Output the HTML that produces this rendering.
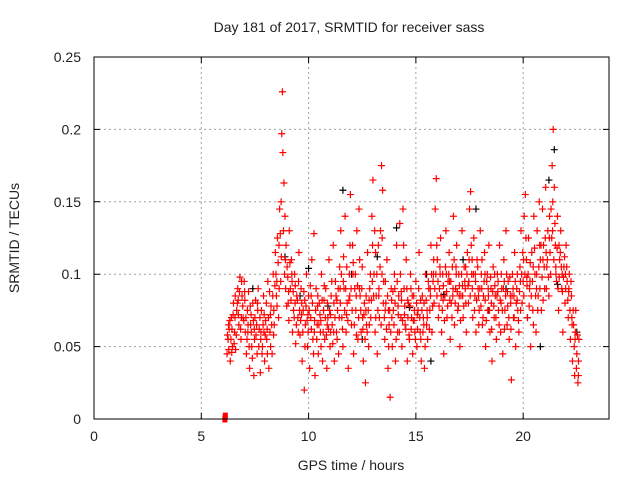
<!DOCTYPE html>
<html><head><meta charset="utf-8"><style>
body{margin:0;background:#fff;font-family:"Liberation Sans",sans-serif}
svg text{font-family:"Liberation Sans",sans-serif;font-size:14px;fill:#222}
</style></head><body>
<svg id="chart" width="640" height="480" viewBox="0 0 640 480" xmlns="http://www.w3.org/2000/svg">
<rect width="640" height="480" fill="#fff"/>
<text x="349" y="32" text-anchor="middle">Day 181 of 2017, SRMTID for receiver sass</text>
<text x="351" y="470" text-anchor="middle">GPS time / hours</text>
<text transform="translate(19,238) rotate(-90)" text-anchor="middle">SRMTID / TECUs</text>
<g id="grid"></g><g id="ticks"></g><g id="marks"></g>
<rect x="94" y="57" width="515" height="362" fill="none" stroke="#000" stroke-width="1"/>
</svg>
<script>
const xTicks=[0,5,10,15,20];
const yTicks=[0,0.05,0.1,0.15,0.2,0.25];
const yTickLabels=["0","0.05","0.1","0.15","0.2","0.25"];
const zeroPoints=[[6.1,0.0],[6.12,0.002]];
const redPoints=[
[6.2,0.045],[6.25,0.055],[6.3,0.062],[6.35,0.04],[6.4,0.07],[6.45,0.05],[6.5,0.08],[6.55,0.06],[6.6,0.048],[6.65,0.075],[6.7,0.09],[6.75,0.065],[6.8,0.098],[6.85,0.055],[6.9,0.085],[6.95,0.07],[7.0,0.095],[7.05,0.06],[7.1,0.045],[7.15,0.075],[7.2,0.088],[7.25,0.035],[7.3,0.065],[7.35,0.05],[7.4,0.08],[7.45,0.03],[7.5,0.07],[7.55,0.058],[7.6,0.045],[7.65,0.09],[7.7,0.062],[7.75,0.032],[7.8,0.075],[7.85,0.05],[7.9,0.085],[7.95,0.04],[8.0,0.068],[8.05,0.055],[8.1,0.095],[8.15,0.035],[8.2,0.06],[8.25,0.078],[8.3,0.045],[8.35,0.1],[8.4,0.065],[8.45,0.115],[8.5,0.085],[8.55,0.125],[8.6,0.07],[8.65,0.145],[8.7,0.095],[8.75,0.197],[8.78,0.226],[8.8,0.184],[8.85,0.163],[8.9,0.14],[8.95,0.12],[9.0,0.105],[9.05,0.08],[9.1,0.13],[9.15,0.09],[9.2,0.11],[9.25,0.06],[9.3,0.075],[9.35,0.1],[9.4,0.052],[9.45,0.085],[9.5,0.07],[9.55,0.115],[9.6,0.058],[9.65,0.09],[9.7,0.04],[9.75,0.075],[9.8,0.02],[9.85,0.065],[9.9,0.1],[9.95,0.05],[10.0,0.085],[10.05,0.035],[10.1,0.07],[10.15,0.11],[10.2,0.055],[10.25,0.128],[10.3,0.03],[10.35,0.09],[10.4,0.065],[10.45,0.045],[10.5,0.08],[10.55,0.06],[10.6,0.1],[10.65,0.04],[10.7,0.075],[10.75,0.055],[10.8,0.09],[10.85,0.035],[10.9,0.07],[10.95,0.11],[11.0,0.05],[11.05,0.085],[11.1,0.065],[11.15,0.12],[11.2,0.04],[11.25,0.095],[11.3,0.06],[11.35,0.075],[11.4,0.045],[11.45,0.105],[11.5,0.13],[11.55,0.07],[11.6,0.05],[11.65,0.09],[11.7,0.14],[11.75,0.06],[11.8,0.08],[11.85,0.035],[11.9,0.1],[11.95,0.155],[12.0,0.065],[12.05,0.12],[12.1,0.045],[12.15,0.09],[12.2,0.075],[12.25,0.13],[12.3,0.055],[12.35,0.145],[12.4,0.085],[12.45,0.06],[12.5,0.105],[12.55,0.04],[12.6,0.08],[12.65,0.025],[12.7,0.065],[12.75,0.115],[12.8,0.05],[12.85,0.09],[12.9,0.07],[12.95,0.14],[13.0,0.165],[13.05,0.1],[13.1,0.06],[13.15,0.085],[13.2,0.045],[13.25,0.12],[13.3,0.07],[13.35,0.13],[13.4,0.175],[13.45,0.158],[13.5,0.095],[13.55,0.055],[13.6,0.08],[13.65,0.11],[13.7,0.035],[13.75,0.065],[13.8,0.015],[13.85,0.09],[13.9,0.05],[13.95,0.075],[14.0,0.1],[14.05,0.04],[14.1,0.12],[14.15,0.06],[14.2,0.085],[14.25,0.135],[14.3,0.07],[14.35,0.05],[14.4,0.145],[14.45,0.09],[14.5,0.065],[14.55,0.11],[14.6,0.04],[14.65,0.08],[14.7,0.055],[14.75,0.1],[14.8,0.07],[14.85,0.045],[14.9,0.085],[14.95,0.06],[15.0,0.095],[15.05,0.05],[15.1,0.075],[15.15,0.115],[15.2,0.06],[15.25,0.04],[15.3,0.085],[15.35,0.07],[15.4,0.035],[15.45,0.1],[15.5,0.065],[15.55,0.055],[15.6,0.09],[15.65,0.075],[15.7,0.12],[15.75,0.06],[15.8,0.095],[15.85,0.08],[15.9,0.145],[15.95,0.166],[16.0,0.11],[16.05,0.07],[16.1,0.09],[16.15,0.125],[16.2,0.06],[16.25,0.1],[16.3,0.045],[16.35,0.085],[16.4,0.13],[16.45,0.07],[16.5,0.095],[16.55,0.115],[16.6,0.055],[16.65,0.08],[16.7,0.105],[16.75,0.14],[16.8,0.065],[16.85,0.09],[16.9,0.12],[16.95,0.075],[17.0,0.1],[17.05,0.05],[17.1,0.085],[17.15,0.13],[17.2,0.07],[17.25,0.105],[17.3,0.09],[17.35,0.06],[17.4,0.115],[17.45,0.08],[17.5,0.145],[17.55,0.157],[17.6,0.1],[17.65,0.07],[17.7,0.125],[17.75,0.085],[17.8,0.06],[17.85,0.11],[17.9,0.09],[17.95,0.075],[18.0,0.13],[18.05,0.1],[18.1,0.065],[18.15,0.085],[18.2,0.115],[18.25,0.05],[18.3,0.095],[18.35,0.075],[18.4,0.12],[18.45,0.06],[18.5,0.09],[18.55,0.04],[18.6,0.105],[18.65,0.07],[18.7,0.085],[18.75,0.055],[18.8,0.1],[18.85,0.075],[18.9,0.12],[18.95,0.06],[19.0,0.09],[19.05,0.045],[19.1,0.11],[19.15,0.075],[19.2,0.13],[19.25,0.065],[19.3,0.095],[19.35,0.055],[19.4,0.085],[19.45,0.027],[19.5,0.1],[19.55,0.07],[19.6,0.115],[19.65,0.05],[19.7,0.09],[19.75,0.075],[19.8,0.06],[19.85,0.105],[19.9,0.13],[19.95,0.08],[20.0,0.095],[20.05,0.14],[20.1,0.155],[20.15,0.11],[20.2,0.07],[20.25,0.125],[20.3,0.09],[20.35,0.05],[20.4,0.115],[20.45,0.075],[20.5,0.14],[20.55,0.1],[20.6,0.06],[20.65,0.13],[20.7,0.085],[20.75,0.15],[20.8,0.11],[20.85,0.075],[20.9,0.145],[20.95,0.12],[21.0,0.09],[21.05,0.16],[21.1,0.105],[21.15,0.13],[21.2,0.085],[21.25,0.115],[21.3,0.145],[21.35,0.175],[21.4,0.2],[21.45,0.16],[21.5,0.12],[21.55,0.095],[21.6,0.14],[21.65,0.075],[21.7,0.11],[21.75,0.13],[21.8,0.09],[21.85,0.06],[21.9,0.105],[21.95,0.08],[22.0,0.12],[22.05,0.095],[22.1,0.07],[22.15,0.1],[22.2,0.055],[22.25,0.085],[22.3,0.04],[22.35,0.065],[22.4,0.03],[22.45,0.075],[22.5,0.045],[22.55,0.025],[22.6,0.055]
];
const redPointsB=[
[6.22,0.058],[6.28,0.048],[6.33,0.068],[6.38,0.055],[6.43,0.062],[6.48,0.072],[6.53,0.052],[6.58,0.085],[6.63,0.058],[6.68,0.08],[6.73,0.072],[6.78,0.088],[6.83,0.062],[6.88,0.095],[6.93,0.078],[6.98,0.068],[7.03,0.082],[7.08,0.07],[7.13,0.055],[7.18,0.065],[7.23,0.05],[7.28,0.078],[7.33,0.06],[7.38,0.042],[7.43,0.068],[7.48,0.055],[7.53,0.082],[7.58,0.065],[7.63,0.075],[7.68,0.05],[7.73,0.07],[7.78,0.06],[7.83,0.045],[7.88,0.065],[7.93,0.072],[7.98,0.058],[8.03,0.08],[8.08,0.045],[8.13,0.07],[8.18,0.088],[8.23,0.05],[8.28,0.065],[8.33,0.085],[8.38,0.075],[8.43,0.092],[8.48,0.1],[8.53,0.078],[8.58,0.108],[8.63,0.09],[8.68,0.128],[8.73,0.112],[8.83,0.13],[8.88,0.1],[8.93,0.09],[8.98,0.078],[9.03,0.098],[9.08,0.068],[9.13,0.108],[9.18,0.082],[9.23,0.095],[9.28,0.088],[9.33,0.07],[9.38,0.092],[9.43,0.065],[9.48,0.082],[9.53,0.095],[9.58,0.075],[9.63,0.068],[9.68,0.08],[9.73,0.06],[9.78,0.088],[9.83,0.05],[9.88,0.078],[9.93,0.068],[9.98,0.06],[10.03,0.075],[10.08,0.092],[10.13,0.062],[10.18,0.08],[10.23,0.045],[10.28,0.068],[10.33,0.075],[10.38,0.055],[10.43,0.085],[10.48,0.065],[10.53,0.072],[10.58,0.05],[10.63,0.082],[10.68,0.06],[10.73,0.092],[10.78,0.07],[10.83,0.058],[10.88,0.08],[10.93,0.062],[10.98,0.075],[11.03,0.06],[11.08,0.095],[11.13,0.052],[11.18,0.08],[11.23,0.07],[11.28,0.085],[11.33,0.055],[11.38,0.09],[11.43,0.07],[11.48,0.08],[11.53,0.1],[11.58,0.062],[11.63,0.112],[11.68,0.075],[11.73,0.09],[11.78,0.105],[11.83,0.068],[11.88,0.082],[11.93,0.12],[11.98,0.09],[12.03,0.075],[12.08,0.108],[12.13,0.065],[12.18,0.1],[12.23,0.058],[12.28,0.092],[12.33,0.07],[12.38,0.11],[12.43,0.075],[12.48,0.09],[12.53,0.062],[12.58,0.072],[12.63,0.055],[12.68,0.085],[12.73,0.06],[12.78,0.075],[12.83,0.065],[12.88,0.1],[12.93,0.082],[12.98,0.12],[13.03,0.085],[13.08,0.13],[13.13,0.07],[13.18,0.1],[13.23,0.075],[13.28,0.09],[13.33,0.105],[13.38,0.065],[13.43,0.125],[13.48,0.08],[13.53,0.07],[13.58,0.095],[13.63,0.062],[13.68,0.085],[13.73,0.05],[13.78,0.075],[13.83,0.06],[13.88,0.07],[13.93,0.088],[13.98,0.065],[14.03,0.08],[14.08,0.055],[14.13,0.095],[14.18,0.072],[14.23,0.06],[14.28,0.1],[14.33,0.082],[14.38,0.068],[14.43,0.12],[14.48,0.078],[14.53,0.062],[14.58,0.09],[14.63,0.07],[14.68,0.058],[14.73,0.078],[14.78,0.062],[14.83,0.085],[14.88,0.068],[14.93,0.075],[14.98,0.055],[15.03,0.08],[15.08,0.062],[15.13,0.09],[15.18,0.07],[15.23,0.055],[15.28,0.075],[15.33,0.06],[15.38,0.08],[15.43,0.05],[15.48,0.082],[15.53,0.07],[15.58,0.095],[15.63,0.062],[15.68,0.085],[15.73,0.1],[15.78,0.078],[15.83,0.11],[15.88,0.09],[15.93,0.1],[15.98,0.085],[16.03,0.095],[16.08,0.078],[16.13,0.1],[16.18,0.085],[16.23,0.075],[16.28,0.092],[16.33,0.068],[16.38,0.105],[16.43,0.088],[16.48,0.078],[16.53,0.1],[16.58,0.082],[16.63,0.095],[16.68,0.07],[16.73,0.09],[16.78,0.11],[16.83,0.08],[16.88,0.1],[16.93,0.088],[16.98,0.078],[17.03,0.092],[17.08,0.068],[17.13,0.1],[17.18,0.085],[17.23,0.078],[17.28,0.095],[17.33,0.08],[17.38,0.1],[17.43,0.092],[17.48,0.11],[17.53,0.085],[17.58,0.12],[17.63,0.09],[17.68,0.1],[17.73,0.075],[17.78,0.095],[17.83,0.082],[17.88,0.105],[17.93,0.065],[17.98,0.09],[18.03,0.078],[18.08,0.11],[18.13,0.07],[18.18,0.095],[18.23,0.082],[18.28,0.068],[18.33,0.1],[18.38,0.085],[18.43,0.075],[18.48,0.098],[18.53,0.062],[18.58,0.088],[18.63,0.078],[18.68,0.092],[18.73,0.07],[18.78,0.085],[18.83,0.095],[18.88,0.065],[18.93,0.082],[18.98,0.1],[19.03,0.075],[19.08,0.09],[19.13,0.062],[19.18,0.085],[19.23,0.1],[19.28,0.078],[19.33,0.07],[19.38,0.098],[19.43,0.062],[19.48,0.085],[19.53,0.09],[19.58,0.07],[19.63,0.095],[19.68,0.08],[19.73,0.1],[19.78,0.068],[19.83,0.088],[19.88,0.075],[19.93,0.1],[19.98,0.115],[20.03,0.085],[20.08,0.1],[20.13,0.125],[20.18,0.092],[20.23,0.1],[20.28,0.078],[20.33,0.108],[20.38,0.085],[20.43,0.095],[20.48,0.065],[20.53,0.118],[20.58,0.085],[20.63,0.1],[20.68,0.075],[20.73,0.105],[20.78,0.09],[20.83,0.12],[20.88,0.098],[20.93,0.082],[20.98,0.105],[21.03,0.125],[21.08,0.09],[21.13,0.11],[21.18,0.098],[21.23,0.14],[21.28,0.1],[21.33,0.125],[21.38,0.15],[21.43,0.11],[21.48,0.135],[21.53,0.1],[21.58,0.118],[21.63,0.09],[21.68,0.098],[21.73,0.115],[21.78,0.105],[21.83,0.088],[21.88,0.098],[21.93,0.112],[21.98,0.09],[22.03,0.105],[22.08,0.082],[22.13,0.09],[22.18,0.075],[22.23,0.095],[22.28,0.065],[22.33,0.075],[22.38,0.05],[22.43,0.06],[22.48,0.035],[22.53,0.058],[22.58,0.04]
];
const redPointsC=[
[6.27,0.065],[6.42,0.046],[6.57,0.07],[6.72,0.082],[6.87,0.07],[7.02,0.088],[7.17,0.06],[7.32,0.072],[7.47,0.062],[7.62,0.08],[7.77,0.055],[7.92,0.06],[8.07,0.062],[8.22,0.072],[8.37,0.058],[8.52,0.095],[8.62,0.12],[8.72,0.15],[8.92,0.11],[9.07,0.088],[9.22,0.1],[9.37,0.08],[9.52,0.06],[9.67,0.072],[9.82,0.082],[9.97,0.072],[10.12,0.085],[10.27,0.06],[10.42,0.078],[10.57,0.068],[10.72,0.082],[10.87,0.065],[11.02,0.072],[11.17,0.06],[11.32,0.082],[11.47,0.09],[11.62,0.095],[11.77,0.072],[11.92,0.085],[12.07,0.1],[12.22,0.085],[12.37,0.09],[12.52,0.07],[12.67,0.075],[12.82,0.082],[12.97,0.095],[13.12,0.115],[13.27,0.085],[13.42,0.1],[13.57,0.075],[13.72,0.075],[13.87,0.082],[14.02,0.09],[14.17,0.078],[14.32,0.088],[14.47,0.072],[14.62,0.082],[14.77,0.09],[14.92,0.068],[15.07,0.072],[15.22,0.082],[15.37,0.065],[15.52,0.075],[15.67,0.09],[15.82,0.1],[15.97,0.12],[16.12,0.105],[16.27,0.082],[16.42,0.1],[16.57,0.095],[16.72,0.085],[16.87,0.105],[17.02,0.085],[17.17,0.092],[17.32,0.105],[17.47,0.095],[17.62,0.11],[17.77,0.1],[17.92,0.085],[18.07,0.09],[18.22,0.1],[18.37,0.09],[18.52,0.08],[18.67,0.1],[18.82,0.088],[18.97,0.08],[19.12,0.095],[19.27,0.088],[19.42,0.08],[19.57,0.085],[19.72,0.082],[19.87,0.095],[20.02,0.11],[20.17,0.098],[20.32,0.095],[20.47,0.105],[20.62,0.09],[20.77,0.12],[20.92,0.11],[21.07,0.115],[21.22,0.125],[21.37,0.13],[21.52,0.105],[21.67,0.12],[21.82,0.1],[21.97,0.1],[22.12,0.088],[22.27,0.07],[22.42,0.055],[22.57,0.03]
];
const blackPoints=[[8.9,0.112],[9.6,0.085],[10.0,0.104],[10.9,0.078],[11.6,0.158],[12.5,0.055],[13.2,0.112],[14.1,0.132],[14.7,0.077],[15.5,0.1],[16.3,0.086],[17.2,0.11],[17.8,0.145],[18.4,0.075],[19.2,0.09],[20.2,0.07],[21.2,0.165],[21.45,0.186],[21.6,0.093],[22.5,0.06],[7.4,0.09],[12.0,0.1],[15.7,0.04],[20.8,0.05]];
const X=t=>94+t*(515/24), Y=v=>419-v*(362/0.25);
const NS="http://www.w3.org/2000/svg";
const grid=document.getElementById('grid'),ticks=document.getElementById('ticks'),marks=document.getElementById('marks');
function mk(tag,attrs,parent){const e=document.createElementNS(NS,tag);for(const k in attrs)e.setAttribute(k,attrs[k]);parent.appendChild(e);return e;}
xTicks.forEach(t=>{const x=X(t);
 if(t>0){const g=mk('line',{x1:x,x2:x,y1:57,y2:419,stroke:'#a0a0a0','stroke-dasharray':'2,3'},grid);
 
 }
 const tk=mk('path',{d:`M${x},419v-6M${x},57v6`,stroke:'#000'},ticks);
 
 
 const lb=mk('text',{x:x,y:441,'text-anchor':'middle'},ticks);lb.textContent=String(t);
 
 });
yTicks.forEach((v,i)=>{const y=Y(v);
 if(i>0&&i<yTicks.length-1){const g=mk('line',{x1:94,x2:609,y1:y,y2:y,stroke:'#a0a0a0','stroke-dasharray':'2,3'},grid);
 
 }
 const tk=mk('path',{d:`M94,${y}h6M609,${y}h-6`,stroke:'#000'},ticks);
 
 
 const lb=mk('text',{x:81,y:y+5,'text-anchor':'end'},ticks);lb.textContent=yTickLabels[i];
 
 });
function plus(p,color,name){const x=X(p[0]),y=Y(p[1]);
 const e=mk('path',{d:`M${x-3.5},${y}h7M${x},${y-3.5}v7`,stroke:color,'stroke-width':1.2},marks);
 
 }
blackPoints.forEach(p=>plus(p,'#000','black-point'));
redPoints.forEach(p=>plus(p,'#ff0000','red-point'));
redPointsB.forEach(p=>plus(p,'#ff0000','red-point'));
redPointsC.forEach(p=>plus(p,'#ff0000','red-point'));
zeroPoints.forEach(p=>{
 const r=mk('rect',{x:X(p[0])-2.5,y:Y(p[1])-3.5,width:5,height:7,fill:'#ff0000'},marks);
 
 });
</script>
</body></html>
